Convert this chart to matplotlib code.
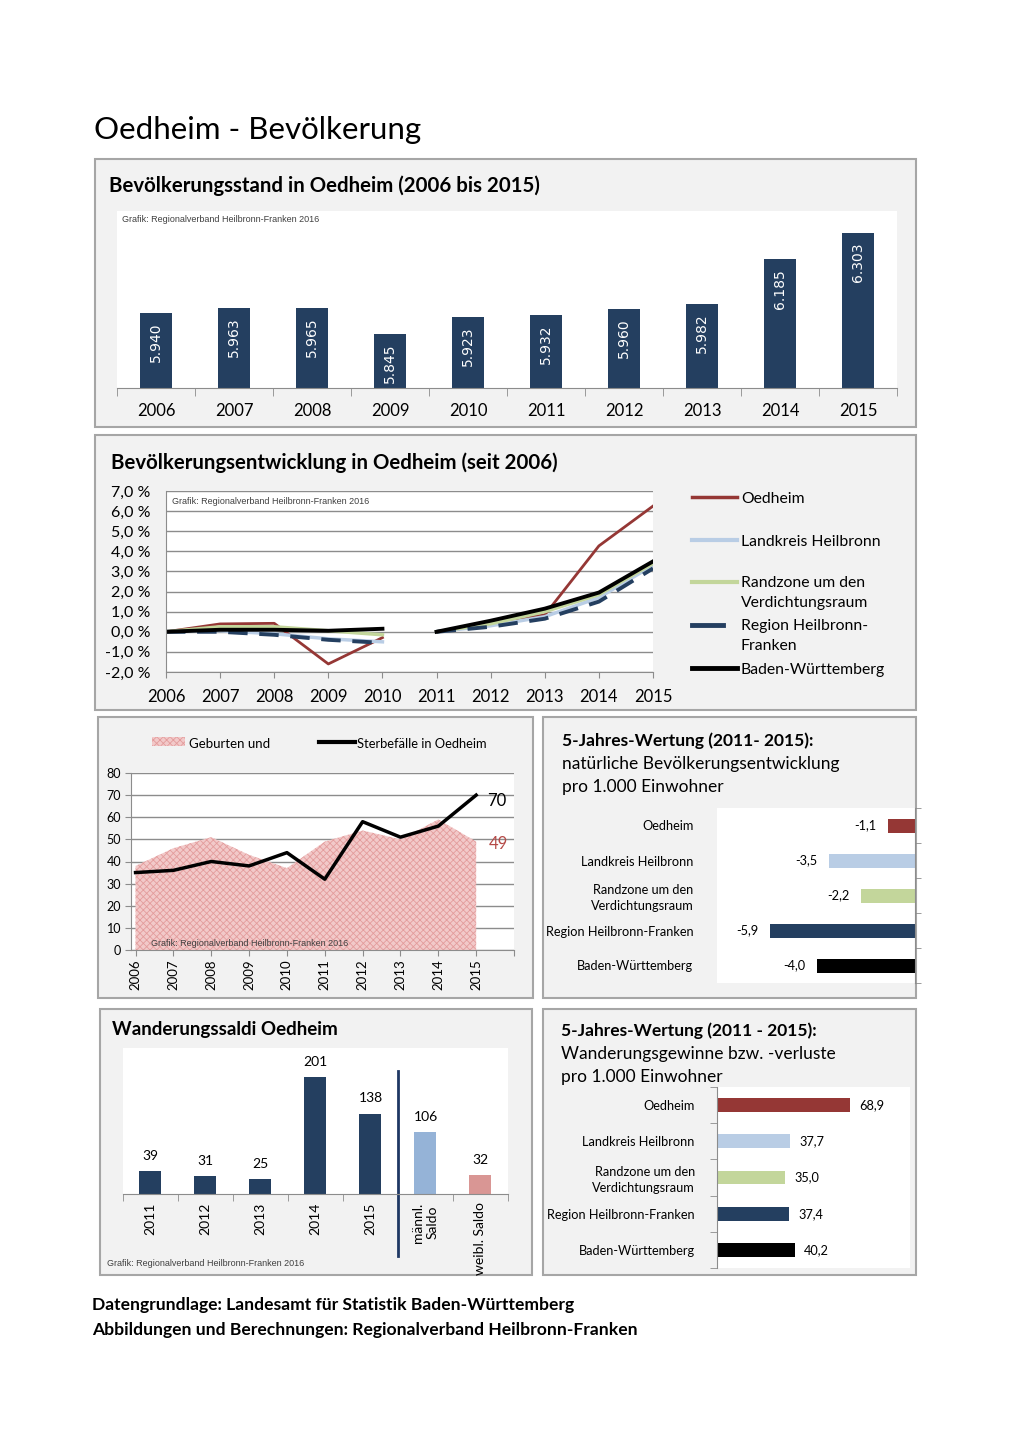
import numpy as np
import matplotlib.pyplot as plt
from matplotlib.patches import Rectangle
from matplotlib.lines import Line2D

plt.rcParams['font.family'] = ['Lato', 'DejaVu Sans']
plt.rcParams['hatch.linewidth'] = 0.6

W, H = 1020, 1443

# Bevölkerungsstand
jahre = ['2006', '2007', '2008', '2009', '2010', '2011', '2012', '2013', '2014', '2015']
einwohner = [5940, 5963, 5965, 5845, 5923, 5932, 5960, 5982, 6185, 6303]

# Bevölkerungsentwicklung in % (2006-2010 Basis 2006, 2011-2015 Basis 2011)
entw_oedheim = [0.0, 0.39, 0.42, -1.60, -0.29, 0.0, 0.47, 0.84, 4.27, 6.25]
entw_landkreis = [0.0, 0.05, -0.10, -0.35, -0.50, 0.0, 0.30, 0.75, 1.70, 3.30]
entw_randzone = [0.0, 0.25, 0.25, 0.05, -0.15, 0.0, 0.40, 1.00, 1.85, 3.40]
entw_region = [0.0, 0.0, -0.15, -0.40, -0.55, 0.0, 0.25, 0.65, 1.50, 3.15]
entw_bw = [0.0, 0.10, 0.10, 0.05, 0.15, 0.0, 0.55, 1.15, 1.95, 3.50]

# Geburten und Sterbefälle
geburten = [38, 46, 51, 43, 37, 49, 54, 50, 59, 49]
sterbefaelle = [35, 36, 40, 38, 44, 32, 58, 51, 56, 70]

# 5-Jahres-Wertung
gebiete = ['Oedheim', 'Landkreis Heilbronn', 'Randzone um den\nVerdichtungsraum',
           'Region Heilbronn-Franken', 'Baden-Württemberg']
natuerlich = [-1.1, -3.5, -2.2, -5.9, -4.0]
wanderung_5j = [68.9, 37.7, 35.0, 37.4, 40.2]

# Wanderungssaldi
saldo_kat = ['2011', '2012', '2013', '2014', '2015', 'männl.\nSaldo', 'weibl. Saldo']
saldo_werte = [39, 31, 25, 201, 138, 106, 32]

c_rot = '#953735'
c_hellblau = '#b9cde5'
c_gruen = '#c3d69b'
c_dunkel = '#243f60'
gebiet_farben = [c_rot, c_hellblau, c_gruen, c_dunkel, 'black']
grid_c = '#8c8c8c'
quelle = 'Grafik: Regionalverband Heilbronn-Franken 2016'

fig = plt.figure(figsize=(W / 100, H / 100), dpi=100)
fig.patch.set_facecolor('white')


def fy(y):
    return 1 - y / H


def add_box(x0, y0, x1, y1):
    fig.patches.append(Rectangle((x0 / W, fy(y1)), (x1 - x0) / W, (y1 - y0) / H,
                                 transform=fig.transFigure, facecolor='#f2f2f2',
                                 edgecolor='#a6a6a6', lw=1.5, zorder=-1))


def add_ax(x0, y0, x1, y1):
    return fig.add_axes([x0 / W, fy(y1), (x1 - x0) / W, (y1 - y0) / H])


def txt(x, y, s, **kw):
    kw.setdefault('va', 'center')
    return fig.text(x / W, fy(y + 2), s, **kw)


def fmt_de(v, nd=1):
    return f'{v:.{nd}f}'.replace('.', ',')


txt(94, 128, 'Oedheim - Bevölkerung', fontsize=22.5)

# ---- Panel 1: Bevölkerungsstand
add_box(95, 159, 916, 427)
txt(109, 184, 'Bevölkerungsstand in Oedheim (2006 bis 2015)', fontsize=14.7, fontweight='bold')
ax1 = add_ax(117, 211, 897, 388)
x = np.arange(len(jahre))
ax1.bar(x, einwohner, width=0.4, color=c_dunkel)
ax1.set_xlim(-0.5, 9.5)
ax1.set_ylim(5600, 6404)
for sp in ['top', 'right', 'left']:
    ax1.spines[sp].set_visible(False)
ax1.spines['bottom'].set_color(grid_c)
ax1.set_yticks([])
ax1.set_xticks(x)
ax1.set_xticklabels(jahre, fontsize=12)
ax1.set_xticks(np.arange(-0.5, 10), minor=True)
ax1.tick_params(axis='x', which='major', length=0, pad=11)
ax1.tick_params(axis='x', which='minor', length=6, color=grid_c)
for i, v in enumerate(einwohner):
    ax1.annotate(f'{v:,}'.replace(',', '.'), (i, v), xytext=(0, -7), textcoords='offset points',
                 rotation=90, ha='center', va='top', color='white', fontsize=10,
                 family='DejaVu Sans')
txt(122, 217, quelle, fontsize=6.5, family='Liberation Sans', color='#404040')

# ---- Panel 2: Bevölkerungsentwicklung
add_box(95, 435, 916, 710)
txt(111, 461, 'Bevölkerungsentwicklung in Oedheim (seit 2006)', fontsize=14.7, fontweight='bold')
ax2 = add_ax(166, 491, 653, 672)
ax2.set_xlim(0, 9)
ax2.set_ylim(-2, 7)
ax2.set_yticks(range(-2, 8))
ax2.set_yticklabels([fmt_de(v) + ' %' for v in range(-2, 8)], fontsize=11.5)
ax2.set_xticks(x)
ax2.set_xticklabels(jahre, fontsize=12)
ax2.grid(axis='y', color=grid_c, lw=1)
ax2.set_axisbelow(True)
for sp in ['top', 'right']:
    ax2.spines[sp].set_visible(False)
for sp in ['left', 'bottom']:
    ax2.spines[sp].set_color(grid_c)
ax2.tick_params(axis='y', length=0, pad=11)
ax2.tick_params(axis='x', length=4, color=grid_c, pad=8)

serien = [
    ('Oedheim', entw_oedheim, c_rot, 2.0, '-'),
    ('Landkreis Heilbronn', entw_landkreis, c_hellblau, 2.5, '-'),
    ('Randzone', entw_randzone, c_gruen, 2.5, '-'),
    ('Region', entw_region, c_dunkel, 2.8, (0, (5, 3))),
    ('BW', entw_bw, 'black', 2.8, '-'),
]
for name, werte, col, lw, ls in serien:
    ax2.plot(x[:5], werte[:5], color=col, lw=lw, ls=ls)
    ax2.plot(x[5:], werte[5:], color=col, lw=lw, ls=ls)
txt(172, 500, quelle, fontsize=6.5, family='Liberation Sans', color='#404040')

leg = [
    (497, 'Oedheim', c_rot, 2.5, 737),
    (540, 'Landkreis Heilbronn', c_hellblau, 3, 737),
    (582, 'Randzone um den\nVerdichtungsraum', c_gruen, 3, 737),
    (625, 'Region Heilbronn-\nFranken', c_dunkel, 3.5, 723),
    (668, 'Baden-Württemberg', 'black', 3.5, 737),
]
for yy, lab, col, lw, xe in leg:
    fig.lines.append(Line2D([692 / W, xe / W], [fy(yy), fy(yy)], transform=fig.transFigure,
                            color=col, lw=lw))
    if '\n' in lab:
        txt(741, yy - 8, lab, fontsize=11.3, va='top', linespacing=1.55)
    else:
        txt(741, yy, lab, fontsize=11.3)

# ---- Panel 3: Geburten und Sterbefälle
add_box(98, 717, 533, 998)
ax3 = add_ax(131, 773, 514, 950)
ax3.fill_between(x, geburten, color='#f2c9c9', edgecolor='#e39c9c', hatch='xxxxx', lw=0)
ax3.plot(x, sterbefaelle, color='black', lw=2.5)
ax3.set_xlim(-0.12, 10)
ax3.set_ylim(0, 80)
ax3.set_yticks(range(0, 81, 10))
ax3.set_yticklabels([str(v) for v in range(0, 81, 10)], fontsize=9)
ax3.set_xticks(range(11))
ax3.set_xticklabels(jahre + [''], rotation=90, fontsize=9.5)
ax3.grid(axis='y', color=grid_c, lw=1)
ax3.set_axisbelow(True)
for sp in ['top', 'right']:
    ax3.spines[sp].set_visible(False)
for sp in ['left', 'bottom']:
    ax3.spines[sp].set_color(grid_c)
ax3.tick_params(length=4, color=grid_c, pad=3)
ax3.annotate(str(sterbefaelle[-1]), (9, sterbefaelle[-1]), xytext=(8, -4), textcoords='offset points',
             ha='left', va='center', fontsize=12)
ax3.annotate(str(geburten[-1]), (9, geburten[-1]), xytext=(9, -2), textcoords='offset points',
             ha='left', va='center', fontsize=12, color='#b54a47')
txt(151, 941, quelle, fontsize=6.5, family='Liberation Sans', color='#404040')
leg_p = Rectangle((152 / W, fy(746)), 33 / W, 9 / H, transform=fig.transFigure,
                  facecolor='#f2c9c9', edgecolor='#e39c9c', hatch='xxxxx', lw=0)
fig.patches.append(leg_p)
txt(189, 742, 'Geburten und', fontsize=9.5)
fig.lines.append(Line2D([319 / W, 355 / W], [fy(742), fy(742)], transform=fig.transFigure,
                        color='black', lw=3))
txt(357, 742, 'Sterbefälle in Oedheim', fontsize=9.3)

# ---- Panel 4: natürliche Bevölkerungsentwicklung
add_box(543, 717, 916, 998)
txt(562, 739, '5-Jahres-Wertung (2011- 2015):', fontsize=12.5, fontweight='bold')
txt(562, 762, 'natürliche Bevölkerungsentwicklung', fontsize=12.5)
txt(562, 785, 'pro 1.000 Einwohner', fontsize=12.5)
ax4 = add_ax(717, 808, 915, 983)
yy = np.arange(len(gebiete))
ax4.barh(yy, natuerlich, height=0.4, color=gebiet_farben)
ax4.set_xlim(-8.05, 0)
ax4.set_ylim(4.5, -0.5)
for sp in ['top', 'left', 'bottom']:
    ax4.spines[sp].set_visible(False)
ax4.spines['right'].set_color(grid_c)
ax4.set_xticks([])
ax4.set_yticks(yy)
ax4.set_yticklabels(gebiete, fontsize=9.2, linespacing=1.35)
ax4.set_yticks(np.arange(-0.5, 5), minor=True)
ax4.tick_params(axis='y', which='major', length=0, pad=17)
ax4.tick_params(axis='y', which='minor', left=False, right=True, length=4, color=grid_c)
for i, v in enumerate(natuerlich):
    ax4.annotate(fmt_de(v), (v, i), xytext=(-8, 0), textcoords='offset points',
                 ha='right', va='center', fontsize=9.2)

# ---- Panel 5: Wanderungssaldi
add_box(100, 1009, 532, 1275)
txt(112, 1027, 'Wanderungssaldi Oedheim', fontsize=13.5, fontweight='bold')
ax5 = add_ax(123, 1048, 508, 1194)
xs = np.arange(len(saldo_kat))
ax5.bar(xs, saldo_werte, width=0.4,
        color=[c_dunkel] * 5 + ['#95b3d7', '#d99694'])
ax5.set_xlim(-0.5, 6.5)
ax5.set_ylim(0, 251)
for sp in ['top', 'right', 'left']:
    ax5.spines[sp].set_visible(False)
ax5.spines['bottom'].set_color(grid_c)
ax5.set_yticks([])
ax5.set_xticks(xs)
ax5.set_xticklabels(saldo_kat, rotation=90, fontsize=10)
ax5.set_xticks(np.arange(-0.5, 7), minor=True)
ax5.tick_params(axis='x', which='major', length=0, pad=6)
ax5.tick_params(axis='x', which='minor', length=5, color=grid_c)
for i, v in enumerate(saldo_werte):
    ax5.annotate(str(v), (i, v), xytext=(0, 11), textcoords='offset points',
                 ha='center', va='center', fontsize=10)
ax5.plot([4.5, 4.5], [-0.425, 0.842], transform=ax5.get_xaxis_transform(),
         clip_on=False, color='#1f3864', lw=2)
txt(107, 1262, quelle, fontsize=6.5, family='Liberation Sans', color='#404040')

# ---- Panel 6: Wanderungsgewinne
add_box(543, 1009, 916, 1275)
txt(561, 1029, '5-Jahres-Wertung (2011 - 2015):', fontsize=12.5, fontweight='bold')
txt(561, 1052, 'Wanderungsgewinne bzw. -verluste', fontsize=12.5)
txt(561, 1075, 'pro 1.000 Einwohner', fontsize=12.5)
ax6 = add_ax(717, 1087, 910, 1268)
ax6.barh(yy, wanderung_5j, height=0.38, color=gebiet_farben)
ax6.set_xlim(0, 100)
ax6.set_ylim(4.5, -0.5)
for sp in ['top', 'right', 'bottom']:
    ax6.spines[sp].set_visible(False)
ax6.spines['left'].set_color(grid_c)
ax6.set_xticks([])
ax6.set_yticks(yy)
ax6.set_yticklabels(gebiete, fontsize=9.2, linespacing=1.35)
ax6.set_yticks(np.arange(-0.5, 5), minor=True)
ax6.tick_params(axis='y', which='major', length=0, pad=16)
ax6.tick_params(axis='y', which='minor', length=5, color=grid_c)
for i, v in enumerate(wanderung_5j):
    ax6.annotate(fmt_de(v), (v, i), xytext=(7, 0), textcoords='offset points',
                 ha='left', va='center', fontsize=9.2)

# ---- Quellen
txt(92, 1303, 'Datengrundlage: Landesamt für Statistik Baden-Württemberg', fontsize=12.6, fontweight='bold')
txt(92, 1328, 'Abbildungen und Berechnungen: Regionalverband Heilbronn-Franken', fontsize=12.6, fontweight='bold')

fig.savefig('out.png', dpi=100)
